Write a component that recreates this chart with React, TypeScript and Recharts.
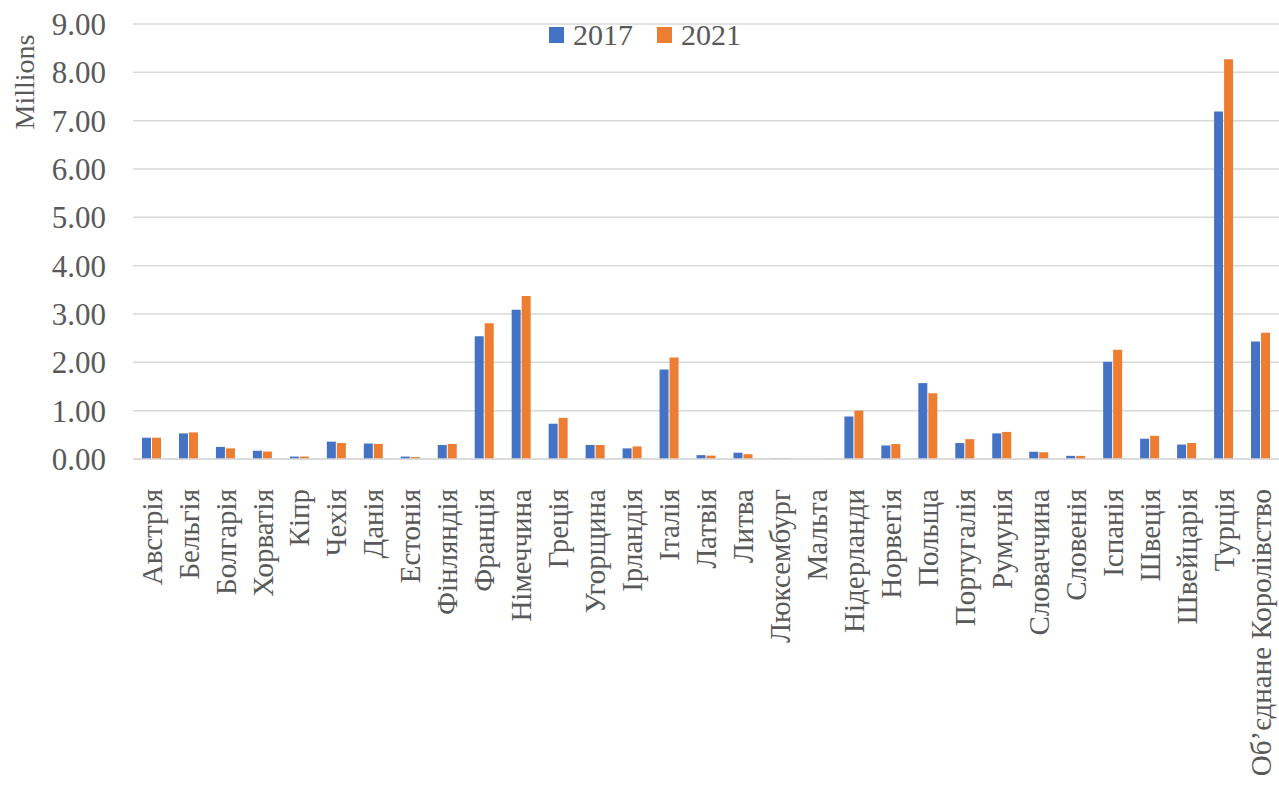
import React from "react";
import { Bar, BarChart, CartesianGrid, XAxis, YAxis } from "recharts";

const countries = [
  "Австрія", "Бельгія", "Болгарія", "Хорватія", "Кіпр", "Чехія", "Данія", "Естонія",
  "Фінляндія", "Франція", "Німеччина", "Греція", "Угорщина", "Ірландія", "Італія", "Латвія",
  "Литва", "Люксембург", "Мальта", "Нідерланди", "Норвегія", "Польща", "Португалія", "Румунія",
  "Словаччина", "Словенія", "Іспанія", "Швеція", "Швейцарія", "Турція", "Об’єднане Королівство"
];

const values2017 = [
  0.44, 0.53, 0.25, 0.17, 0.05, 0.36, 0.32, 0.05, 0.29, 2.54, 3.09, 0.73, 0.29, 0.22, 1.85, 0.08,
  0.13, 0.01, 0.0, 0.88, 0.28, 1.57, 0.33, 0.53, 0.15, 0.065, 2.01, 0.42, 0.3, 7.19, 2.43
];

const values2021 = [
  0.44, 0.55, 0.22, 0.155, 0.05, 0.33, 0.31, 0.04, 0.31, 2.81, 3.37, 0.85, 0.29, 0.26, 2.1, 0.07,
  0.1, 0.01, 0.0, 1.0, 0.31, 1.36, 0.41, 0.56, 0.14, 0.065, 2.26, 0.48, 0.33, 8.27, 2.61
];

const yTicks = [0, 1, 2, 3, 4, 5, 6, 7, 8, 9];

const BLUE = "#4472C4";
const ORANGE = "#ED7D31";
const TEXT = "#595959";
const FONT = "'Liberation Serif', 'Times New Roman', serif";

const data = countries.map((name, i) => ({ name, y2017: values2017[i], y2021: values2021[i] }));

const CategoryTick = (props: any) => {
  const { x, y, payload } = props;
  return (
    <text
      x={x}
      y={y}
      transform={`rotate(-90, ${x}, ${y})`}
      textAnchor="end"
      dy="0.35em"
      fill={TEXT}
      fontSize={29}
      fontFamily={FONT}
    >
      {payload.value}
    </text>
  );
};

export default function App() {
  return (
    <div style={{ position: "absolute", left: 0, top: 0, width: 1279, height: 787, background: "#fff", overflow: "hidden" }}>
      <BarChart
        width={1279}
        height={787}
        data={data}
        margin={{ top: 24, right: 0, left: 0, bottom: 0 }}
        barSize={9}
        barGap={1}
      >
        <CartesianGrid vertical={false} stroke="#d9d9d9" strokeWidth={1.5} />
        <XAxis
          dataKey="name"
          interval={0}
          height={328}
          axisLine={{ stroke: "#d9d9d9", strokeWidth: 1.5 }}
          tickLine={false}
          tick={<CategoryTick />}
          tickMargin={24}
        />
        <YAxis
          width={133}
          domain={[0, 9]}
          ticks={yTicks}
          axisLine={false}
          tickLine={false}
          tickSize={0}
          tickMargin={27}
          tickFormatter={(v: number) => v.toFixed(2)}
          tick={{ fill: TEXT, fontSize: 31, fontFamily: FONT }}
        />
        <Bar dataKey="y2017" name="2017" fill={BLUE} isAnimationActive={false} />
        <Bar dataKey="y2021" name="2021" fill={ORANGE} isAnimationActive={false} />
      </BarChart>
      <div
        style={{
          position: "absolute",
          left: 549,
          top: 17,
          display: "flex",
          alignItems: "center",
          fontFamily: FONT,
          fontSize: 30,
          lineHeight: "36px",
          color: TEXT
        }}
      >
        <span style={{ width: 15, height: 16, background: BLUE, display: "inline-block", marginRight: 9 }} />
        <span style={{ marginRight: 24 }}>2017</span>
        <span style={{ width: 15, height: 16, background: ORANGE, display: "inline-block", marginRight: 9 }} />
        <span>2021</span>
      </div>
      <div
        style={{
          position: "absolute",
          left: 25,
          top: 82,
          transform: "translate(-50%, -50%) rotate(-90deg)",
          fontFamily: FONT,
          fontSize: 28,
          color: TEXT,
          whiteSpace: "nowrap"
        }}
      >
        Millions
      </div>
    </div>
  );
}
